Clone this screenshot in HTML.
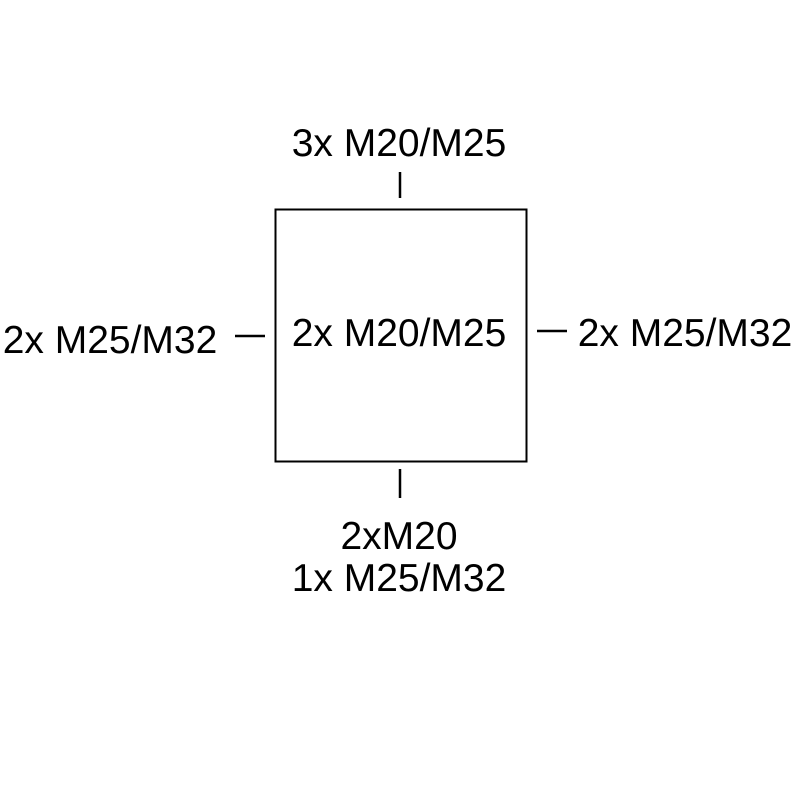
<!DOCTYPE html>
<html><head><style>html,body{margin:0;padding:0;background:#fff}</style></head>
<body>
<svg width="800" height="800" viewBox="0 0 800 800" xmlns="http://www.w3.org/2000/svg" font-family="'Liberation Sans', sans-serif" font-size="39" fill="#000">
<rect x="275.5" y="209.5" width="251" height="252" fill="none" stroke="#000" stroke-width="2"/>
<line x1="400" y1="172" x2="400" y2="198" stroke="#000" stroke-width="2.5"/>
<line x1="400" y1="469" x2="400" y2="498" stroke="#000" stroke-width="2.5"/>
<line x1="235" y1="336" x2="265" y2="336" stroke="#000" stroke-width="2.5"/>
<line x1="537" y1="331" x2="567" y2="331" stroke="#000" stroke-width="2.5"/>
<text x="399" y="156" text-anchor="middle">3x M20/M25</text>
<text x="399" y="346" text-anchor="middle">2x M20/M25</text>
<text x="110" y="353" text-anchor="middle">2x M25/M32</text>
<text x="685" y="346" text-anchor="middle">2x M25/M32</text>
<text x="399" y="549" text-anchor="middle">2xM20</text>
<text x="399" y="591" text-anchor="middle">1x M25/M32</text>
</svg>
</body></html>
